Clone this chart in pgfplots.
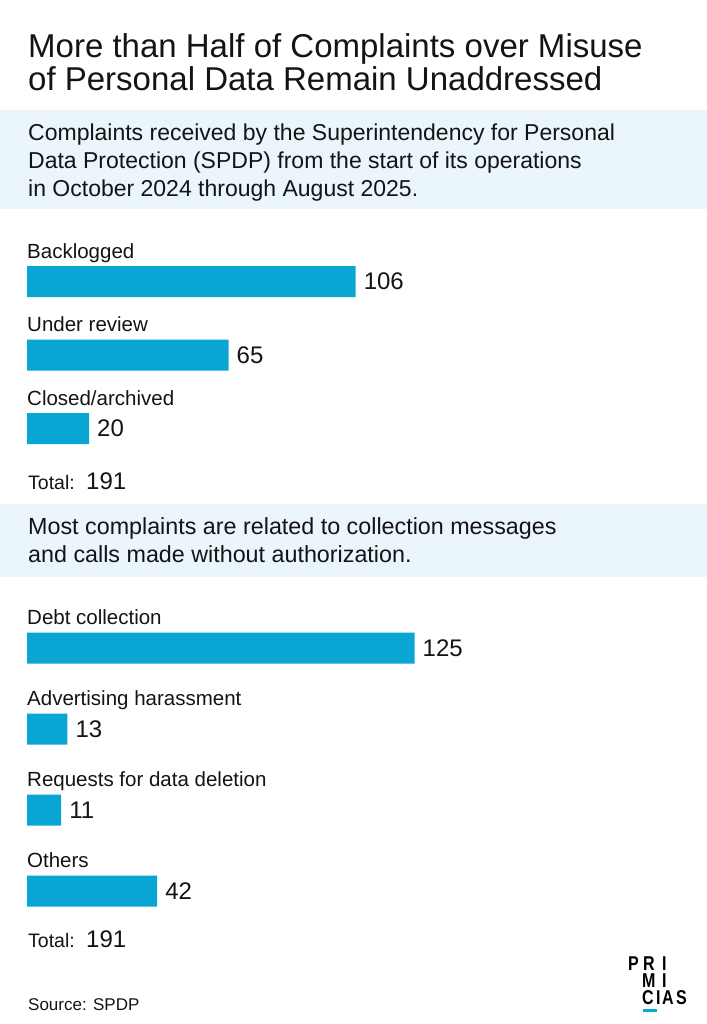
\documentclass[border=0pt]{standalone}
\usepackage{fontspec}
\usepackage{pgfplots}
\pgfplotsset{compat=1.18}
\setmainfont{Liberation Sans}
\newfontfamily\logofont[FakeStretch=0.8]{Liberation Sans Bold}

\definecolor{barblue}{RGB}{9,166,212}
\definecolor{boxblue}{RGB}{234,246,251}
\definecolor{ink}{RGB}{20,20,20}

\newcommand{\titlefont}{\fontsize{33bp}{33bp}\selectfont}
\newcommand{\subfont}{\fontsize{23bp}{28bp}\selectfont}
\newcommand{\leadfont}{\fontsize{23.3bp}{28bp}\selectfont}
\newcommand{\labfont}{\fontsize{20.5bp}{24bp}\selectfont}
\newcommand{\totfont}{\fontsize{19.5bp}{22bp}\selectfont}
\newcommand{\valfont}{\fontsize{24bp}{26bp}\selectfont}
\newcommand{\logosize}{\logofont\fontsize{20bp}{17bp}\selectfont}

\pgfplotsset{
  hbars/.style={
    xbar, x=3.1bp, y dir=reverse,
    xmin=0, xmax=200,
    hide axis, clip=false,
    bar width=31bp,
    nodes near coords,
    point meta=x,
    /pgf/number format/assume math mode=true,
    every node near coord/.append style={anchor=west, font=\valfont, text=ink, inner sep=0pt, xshift=8bp},
  },
}
\tikzset{cat label/.style={anchor=base west, inner sep=0pt, font=\labfont, text=ink, yshift=23.5bp}}

\begin{document}
\begin{tikzpicture}[x=1bp, y=-1bp]
\useasboundingbox (0,0) rectangle (707,1024);
\fill[white] (0,0) rectangle (707,1024);

% headline
\node[anchor=base west, inner sep=0pt, text=ink, font=\titlefont] at (28,57) {More than Half of Complaints over Misuse};
\node[anchor=base west, inner sep=0pt, text=ink, font=\titlefont] at (28,90) {of Personal Data Remain Unaddressed};

% first intro panel
\fill[boxblue] (0,110) rectangle (707,209);
\node[anchor=base west, inner sep=0pt, text=ink, font=\subfont] at (28,140) {Complaints received by the Superintendency for Personal};
\node[anchor=base west, inner sep=0pt, text=ink, font=\subfont] at (28,168) {Data Protection (SPDP) from the start of its operations};
\node[anchor=base west, inner sep=0pt, text=ink, font=\subfont] at (28,196) {in October 2024 through August 2025.};

% complaints by status
\begin{axis}[hbars, at={(27bp,-244.75bp)}, anchor=north west, y=73.5bp, ymin=-0.5, ymax=2.5]
\addplot[fill=barblue, draw=none] coordinates {(106,0) (65,1) (20,2)};
\node[cat label] at (axis cs:0,0) {Backlogged};
\node[cat label] at (axis cs:0,1) {Under review};
\node[cat label] at (axis cs:0,2) {Closed/archived};
\end{axis}
\node[anchor=base west, inner sep=0pt, text=ink, font=\totfont] at (28,489) {Total:};
\node[anchor=base west, inner sep=0pt, text=ink, font=\valfont] at (86,489) {191};

% second intro panel
\fill[boxblue] (0,504) rectangle (707,577);
\node[anchor=base west, inner sep=0pt, text=ink, font=\leadfont] at (28,534) {Most complaints are related to collection messages};
\node[anchor=base west, inner sep=0pt, text=ink, font=\leadfont] at (28,562) {and calls made without authorization.};

% complaints by subject
\begin{axis}[hbars, at={(27bp,-607.5bp)}, anchor=north west, y=81bp, ymin=-0.5, ymax=3.5]
\addplot[fill=barblue, draw=none] coordinates {(125,0) (13,1) (11,2) (42,3)};
\node[cat label] at (axis cs:0,0) {Debt collection};
\node[cat label] at (axis cs:0,1) {Advertising harassment};
\node[cat label] at (axis cs:0,2) {Requests for data deletion};
\node[cat label] at (axis cs:0,3) {Others};
\end{axis}
\node[anchor=base west, inner sep=0pt, text=ink, font=\totfont] at (28,947) {Total:};
\node[anchor=base west, inner sep=0pt, text=ink, font=\valfont] at (86,947) {191};

% source
\node[anchor=base west, inner sep=0pt, text=ink, font=\fontsize{17bp}{20bp}\selectfont] at (28,1010) {Source: SPDP};

% wordmark, set as one stacked block (base anchor sits on the last line)
\node[anchor=base west, inner sep=0pt, text=black, font=\logosize, align=left] at (628,1004)
  {\makebox[15bp][l]{P}\makebox[19bp][l]{R}I\\
   \hspace*{14bp}\makebox[20bp][l]{M}I\\
   \hspace*{14bp}\makebox[14bp][l]{C}\makebox[6bp][l]{I}\makebox[14bp][l]{A}S};
\fill[barblue] (643,1009) rectangle (657,1012);
\end{tikzpicture}
\end{document}
